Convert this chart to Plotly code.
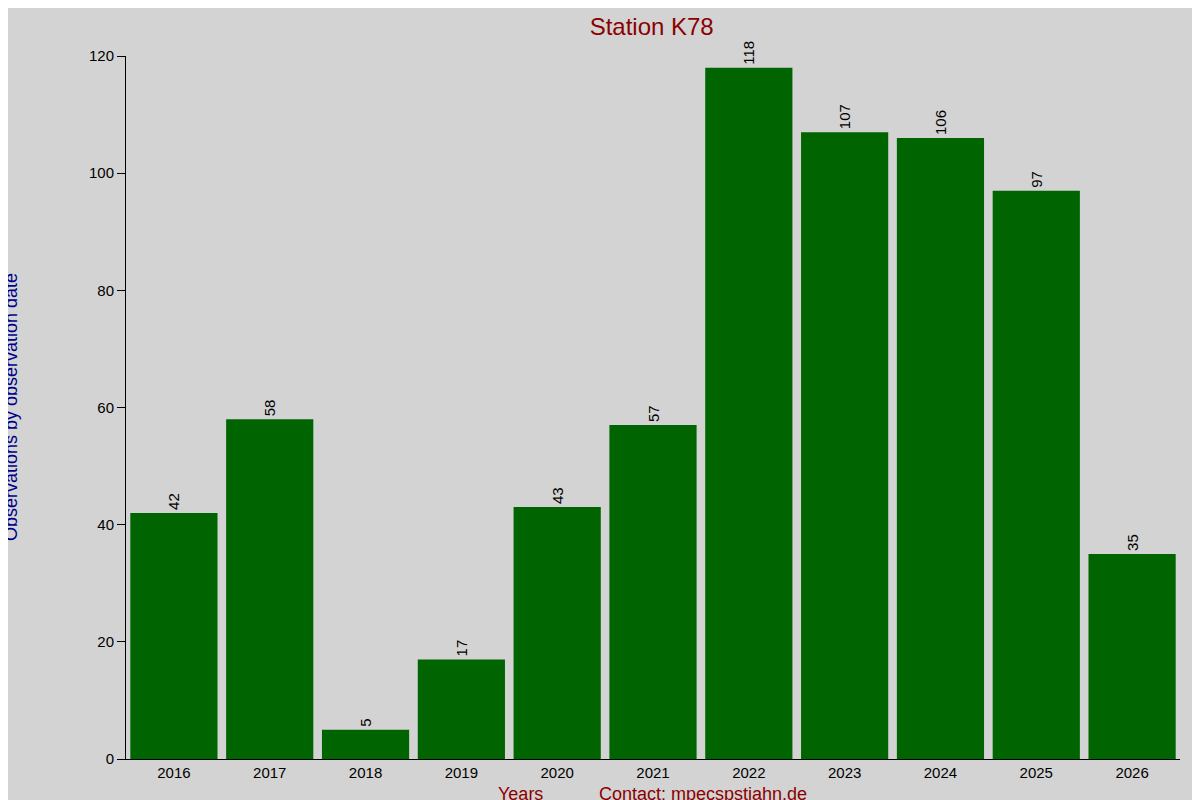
import plotly.graph_objects as go

years = ["2016","2017","2018","2019","2020","2021","2022","2023","2024","2025","2026"]
counts = [42, 58, 5, 17, 43, 57, 118, 107, 106, 97, 35]

fig = go.Figure(go.Bar(
    x=years, y=counts, marker_color="#006400", marker_line_width=0,
    text=[str(c) for c in counts], textposition="outside", textangle=-90,
    textfont=dict(family="Liberation Sans, Arial", size=15, color="black"),
    cliponaxis=False,
))
fig.update_layout(
    width=1192, height=792,
    paper_bgcolor="#d3d3d3", plot_bgcolor="#d3d3d3",
    margin=dict(l=118, r=20, t=48, b=41),
    bargap=0.09, showlegend=False,
    font=dict(family="Liberation Sans, Arial", size=14, color="black"),
    title=dict(text="Station K78", x=0.54, xanchor="center", y=0.977, yanchor="middle",
               font=dict(size=24, color="#8b0000")),
)
fig.update_xaxes(type="category", range=[-0.5, 10.5], showline=True, linecolor="black",
                 ticks="", showgrid=False, tickfont=dict(size=15))
fig.update_yaxes(range=[0, 120], dtick=20, showline=True, linecolor="black",
                 ticks="outside", ticklen=8, tickcolor="black", showgrid=False, zeroline=False,
                 tickfont=dict(size=15))
fig.add_annotation(text="Observations by observation date", xref="paper", yref="paper",
                   x=-0.1, y=0.5, textangle=-90, showarrow=False, xanchor="center",
                   font=dict(size=18, color="#00008b"), xshift=-10)
fig.add_annotation(text="Years", xref="paper", yref="paper", x=0.374, y=0, yshift=-35,
                   yanchor="middle", showarrow=False, font=dict(size=18, color="#8b0000"))
fig.add_annotation(text="Contact: mpecspstjahn.de", xref="paper", yref="paper", x=0.547, y=0,
                   yshift=-35, yanchor="middle", showarrow=False, font=dict(size=18, color="#8b0000"))
fig.write_html("out.html")
